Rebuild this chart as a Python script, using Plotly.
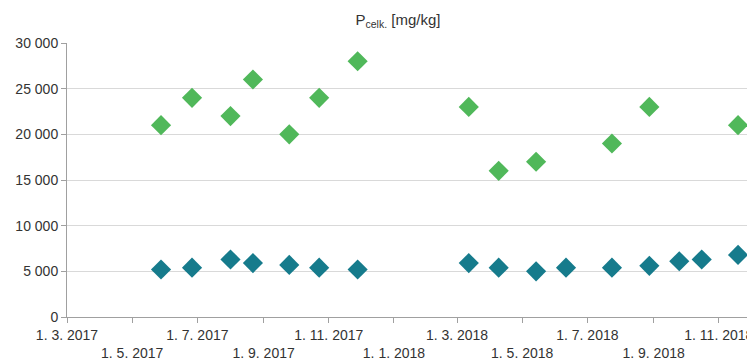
import plotly.graph_objects as go

# Data
dates_all = ["2017-05-28", "2017-06-26", "2017-08-01", "2017-08-22", "2017-09-25",
             "2017-10-23", "2017-11-28", "2018-03-12", "2018-04-09", "2018-05-14",
             "2018-06-11", "2018-07-24", "2018-08-28", "2018-09-25", "2018-10-16",
             "2018-11-19"]
blue_values = [5200, 5400, 6300, 5900, 5700, 5400, 5200, 5900, 5400, 5000,
               5400, 5400, 5600, 6100, 6300, 6800]

dates_green = ["2017-05-28", "2017-06-26", "2017-08-01", "2017-08-22", "2017-09-25",
               "2017-10-23", "2017-11-28", "2018-03-12", "2018-04-09", "2018-05-14",
               "2018-07-24", "2018-08-28", "2018-11-19"]
green_values = [21000, 24000, 22000, 26000, 20000, 24000, 28000, 23000, 16000, 17000,
                19000, 23000, 21000]

tick_dates = ["2017-03-01", "2017-05-01", "2017-07-01", "2017-09-01", "2017-11-01",
              "2018-01-01", "2018-03-01", "2018-05-01", "2018-07-01", "2018-09-01",
              "2018-11-01"]
tick_labels = ["1. 3. 2017", "1. 5. 2017", "1. 7. 2017", "1. 9. 2017", "1. 11. 2017",
               "1. 1. 2018", "1. 3. 2018", "1. 5. 2018", "1. 7. 2018", "1. 9. 2018",
               "1. 11. 2018"]
y_ticks = [0, 5000, 10000, 15000, 20000, 25000, 30000]

GREEN = "#50B85A"
TEAL = "#167B8C"

staggered = [t if i % 2 == 0 else "<br>" + t for i, t in enumerate(tick_labels)]

W, H = 747, 359  # page has an 8px body margin

fig = go.Figure()
fig.add_trace(go.Scatter(x=dates_green, y=green_values, mode="markers",
                         marker=dict(symbol="diamond", size=15.5, color=GREEN),
                         showlegend=False, cliponaxis=False))
fig.add_trace(go.Scatter(x=dates_all, y=blue_values, mode="markers",
                         marker=dict(symbol="diamond", size=15.5, color=TEAL),
                         showlegend=False, cliponaxis=False))

fig.update_layout(
    width=W, height=H,
    margin=dict(l=59, r=2, t=35, b=50, autoexpand=False),
    paper_bgcolor="white", plot_bgcolor="white",
    separators=", ",
    font=dict(family="Liberation Sans, Arial, sans-serif", size=14, color="#333333"),
    title=dict(text="P<sub>celk.</sub> [mg/kg]", x=390/W, xref="container", xanchor="center",
               y=1 - 12/H, yref="container", yanchor="middle",
               font=dict(size=15, color="#333333")),
    xaxis=dict(type="date", range=["2017-03-01", "2018-12-03"],
               tickmode="array", tickvals=tick_dates, ticktext=staggered,
               tickangle=0, automargin=False,
               showgrid=False, showline=True, linecolor="#A0A0A0", linewidth=1,
               ticks="outside", ticklen=5, tickcolor="#A0A0A0", zeroline=False),
    yaxis=dict(range=[0, 30000], tickmode="array", tickvals=y_ticks, tickformat=",d",
               automargin=False,
               showgrid=True, gridcolor="#D9D9D9", gridwidth=1,
               showline=True, linecolor="#A0A0A0", linewidth=1,
               ticks="outside", ticklen=5, tickcolor="#A0A0A0", zeroline=False),
)

fig.write_html("out.html")
